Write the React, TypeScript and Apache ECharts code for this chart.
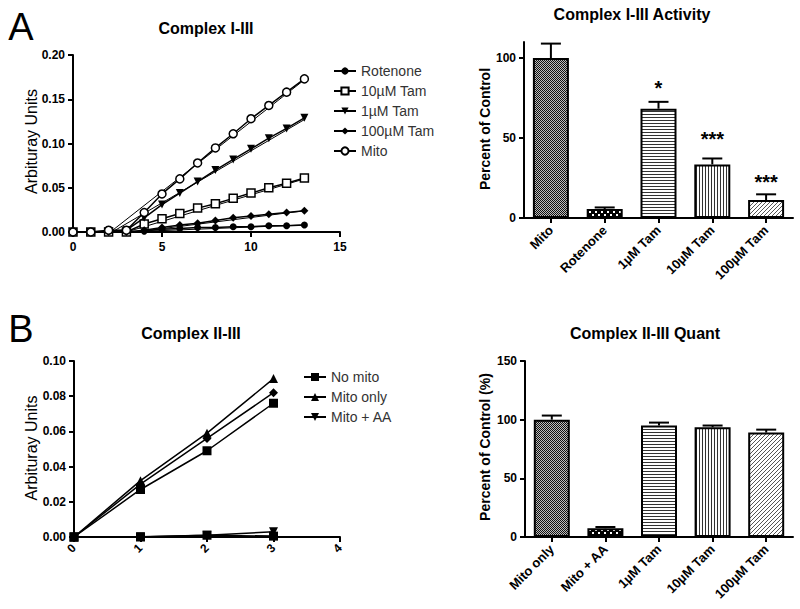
import React, { useEffect, useRef } from 'react';
import * as echarts from 'echarts';

const FONT = '"Liberation Sans", Arial, Helvetica, sans-serif';

// ---------- Panel A (left): Complex I-III kinetics ----------
const timeA = [0, 1, 2, 3, 4, 5, 6, 7, 8, 9, 10, 11, 12, 13];
const rotenoneA = [0, 0, 0, 0, 0.001, 0.003, 0.004, 0.005, 0.005, 0.006, 0.006, 0.007, 0.007, 0.008];
const tam10A = [0, 0, 0, 0, 0.009, 0.015, 0.021, 0.027, 0.032, 0.038, 0.044, 0.05, 0.055, 0.061];
const tam1A = [0, 0, 0.001, 0.002, 0.016, 0.031, 0.044, 0.057, 0.07, 0.082, 0.094, 0.106, 0.117, 0.129];
const tam100A = [0, 0, 0, 0, 0.002, 0.005, 0.008, 0.01, 0.013, 0.016, 0.018, 0.02, 0.022, 0.024];
const mitoA = [0, 0, 0.002, 0.002, 0.022, 0.043, 0.06, 0.078, 0.095, 0.111, 0.128, 0.143, 0.158, 0.173];
// linear fits (start, end) in data units
const fitMitoA = [[2.1, 0], [13, 0.172]];
const fitTam1A = [[2.2, 0], [13, 0.127]];
const fitTam10A = [[3, 0], [13, 0.06]];
const fitTam100A = [[3.5, 0], [13, 0.024]];
const fitRotA = [[3, 0], [13, 0.008]];

// ---------- Panel A (right): Complex I-III Activity ----------
const barCatsA = ['Mito', 'Rotenone', '1µM Tam', '10µM Tam', '100µM Tam'];
const barValsA = [100, 5.6, 68.3, 33.5, 11.2];
const barErrA = [109, 6.6, 72.6, 37.2, 14.8];
const starIdxA = [2, 3, 4];
const starYA = [84, 52, 24.7];
const starTextA = ['*', '***', '***'];
const barTicksA = [0, 50, 100];

// ---------- Panel B (left): Complex II-III kinetics ----------
const timeB = [0, 1, 2, 3];
const noMitoB = [0, 0, 0.001, 0.0005];
const mitoOnlyB = [0, 0.032, 0.059, 0.09];
const mitoAAB = [0, 0.0002, 0.001, 0.003];
const tamDiamondB = [0, 0.03, 0.056, 0.082];
const tamSquareB = [0, 0.027, 0.049, 0.076];

// ---------- Panel B (right): Complex II-III Quant ----------
const barCatsB = ['Mito only', 'Mito + AA', '1µM Tam', '10µM Tam', '100µM Tam'];
const barValsB = [100, 7.5, 95, 93.5, 89];
const barErrB = [103.5, 8.5, 97.5, 95, 91.5];

function tile(w: number, h: number, draw: (ctx: CanvasRenderingContext2D) => void) {
  const c = document.createElement('canvas');
  c.width = w;
  c.height = h;
  const ctx = c.getContext('2d')!;
  draw(ctx);
  return { image: c, repeat: 'repeat', imageWidth: w, imageHeight: h } as any;
}

function makePatterns() {
  const cross = tile(2, 2, (g) => {
    g.fillStyle = '#bdbdbd';
    g.fillRect(0, 0, 2, 2);
    g.fillStyle = '#111';
    g.fillRect(0, 0, 1, 1);
    g.fillRect(1, 1, 1, 1);
  });
  const checker = tile(6, 6, (g) => {
    g.fillStyle = '#000';
    g.fillRect(0, 0, 6, 6);
    g.fillStyle = '#fff';
    g.fillRect(1, 1, 2, 2);
    g.fillRect(4, 4, 2, 2);
  });
  const horiz = tile(4, 3, (g) => {
    g.fillStyle = '#fff';
    g.fillRect(0, 0, 4, 3);
    g.fillStyle = '#333';
    g.fillRect(0, 0, 4, 1);
  });
  const vert = tile(3, 4, (g) => {
    g.fillStyle = '#fff';
    g.fillRect(0, 0, 3, 4);
    g.fillStyle = '#333';
    g.fillRect(0, 0, 1, 4);
  });
  const diag = tile(4, 4, (g) => {
    g.fillStyle = '#fff';
    g.fillRect(0, 0, 4, 4);
    g.fillStyle = '#555';
    g.fillRect(3, 0, 1, 1);
    g.fillRect(2, 1, 1, 1);
    g.fillRect(1, 2, 1, 1);
    g.fillRect(0, 3, 1, 1);
  });
  return [cross, checker, horiz, vert, diag];
}

const DOWN_TRI = 'path://M0,0L10,0L5,10Z';

function lineSeries(name: string, xs: number[], ys: number[], symbol: string, xi: number, size: number, open: boolean) {
  return {
    type: 'line',
    name,
    xAxisIndex: xi,
    yAxisIndex: xi,
    data: xs.map((x, i) => [x, ys[i]]),
    symbol,
    symbolSize: size,
    showSymbol: true,
    lineStyle: { color: '#000', width: 1.5 },
    itemStyle: open
      ? { color: '#fff', borderColor: '#000', borderWidth: 1.5 }
      : { color: '#000', borderColor: '#000', borderWidth: 0 },
    z: 4,
    silent: true,
  };
}

function fitSeries(name: string, pts: number[][], xi: number) {
  return {
    type: 'line',
    name,
    xAxisIndex: xi,
    yAxisIndex: xi,
    data: pts,
    symbol: 'none',
    lineStyle: { color: '#000', width: 1 },
    z: 3,
    silent: true,
  };
}

function errSeries(xi: number, vals: number[], errs: number[]) {
  return {
    type: 'custom',
    xAxisIndex: xi,
    yAxisIndex: xi,
    z: 5,
    silent: true,
    data: vals.map((v, i) => [i, v, errs[i]]),
    renderItem: (params: any, api: any) => {
      const i = api.value(0);
      const p0 = api.coord([i, api.value(1)]);
      const p1 = api.coord([i, api.value(2)]);
      const cap = 10;
      return {
        type: 'group',
        children: [
          { type: 'line', shape: { x1: p0[0], y1: p0[1], x2: p1[0], y2: p1[1] }, style: { stroke: '#000', lineWidth: 2 } },
          { type: 'line', shape: { x1: p1[0] - cap, y1: p1[1], x2: p1[0] + cap, y2: p1[1] }, style: { stroke: '#000', lineWidth: 2 } },
        ],
      };
    },
  };
}

const axisLineStyle = { show: true, onZero: false, lineStyle: { color: '#000', width: 2 } };
const axisTickStyle = { show: true, length: 5, lineStyle: { color: '#000', width: 2 } };
const labelBase = { color: '#000', fontSize: 12, fontWeight: 'bold', fontFamily: FONT };

export default function App() {
  const ref = useRef<HTMLDivElement>(null);

  useEffect(() => {
    if (!ref.current) return;
    const chart = echarts.init(ref.current, undefined, { renderer: 'svg' });
    const pats = makePatterns();

    const grids = [
      { left: 73, top: 55, width: 267, height: 177 },
      { left: 524, top: 42, width: 269, height: 176 },
      { left: 74, top: 361, width: 266, height: 176 },
      { left: 525, top: 361, width: 268, height: 176 },
    ];

    const valueX = (gi: number, max: number, interval: number, rotate: number) => ({
      type: 'value',
      gridIndex: gi,
      min: 0,
      max,
      interval,
      axisLine: axisLineStyle,
      axisTick: axisTickStyle,
      splitLine: { show: false },
      axisLabel: { ...labelBase, margin: 9, rotate },
    });
    const catX = (gi: number, cats: string[]) => ({
      type: 'category',
      gridIndex: gi,
      data: cats,
      axisLine: axisLineStyle,
      axisTick: { ...axisTickStyle, alignWithLabel: true },
      splitLine: { show: false },
      axisLabel: { ...labelBase, fontSize: 13, rotate: 45, interval: 0, margin: 10 },
    });
    const valueY = (gi: number, max: number, interval: number, digits: number, custom?: number[]) => ({
      type: 'value',
      gridIndex: gi,
      min: 0,
      max,
      interval,
      axisLine: axisLineStyle,
      axisTick: custom ? { ...axisTickStyle, customValues: custom } : axisTickStyle,
      splitLine: { show: false },
      axisLabel: {
        ...labelBase,
        margin: 8,
        formatter: (v: number) => v.toFixed(digits),
        ...(custom ? { customValues: custom } : {}),
      },
    });

    const legendText = { fontSize: 14, color: '#333', fontFamily: FONT };

    const option: any = {
      animation: false,
      backgroundColor: '#fff',
      grid: grids,
      xAxis: [
        valueX(0, 15, 5, 0),
        catX(1, barCatsA),
        valueX(2, 4, 1, 45),
        catX(3, barCatsB),
      ],
      yAxis: [
        valueY(0, 0.2, 0.05, 2),
        valueY(1, 110, 10, 0, barTicksA),
        valueY(2, 0.1, 0.02, 2),
        valueY(3, 150, 50, 0),
      ],
      legend: [
        {
          left: 328,
          top: 59,
          orient: 'vertical',
          itemWidth: 22,
          itemHeight: 9,
          itemGap: 6,
          textStyle: legendText,
          data: ['Rotenone', '10µM Tam', '1µM Tam', '100µM Tam', 'Mito'],
          selectedMode: false,
        },
        {
          left: 298,
          top: 365,
          orient: 'vertical',
          itemWidth: 22,
          itemHeight: 10,
          itemGap: 6,
          textStyle: legendText,
          data: ['No mito', 'Mito only', 'Mito + AA'],
          selectedMode: false,
        },
      ],
      graphic: [
        { type: 'text', x: 21, y: 27, style: { text: 'A', fontSize: 38, fontFamily: FONT, fill: '#000', textAlign: 'center', textVerticalAlign: 'middle', verticalAlign: 'middle' } },
        { type: 'text', x: 21, y: 329, style: { text: 'B', fontSize: 38, fontFamily: FONT, fill: '#000', textAlign: 'center', textVerticalAlign: 'middle', verticalAlign: 'middle' } },
        { type: 'text', x: 206, y: 28.5, style: { text: 'Complex I-III', fontSize: 16, fontWeight: 'bold', fontFamily: FONT, fill: '#000', textAlign: 'center', textVerticalAlign: 'middle', verticalAlign: 'middle' } },
        { type: 'text', x: 632, y: 14, style: { text: 'Complex I-III Activity', fontSize: 16, fontWeight: 'bold', fontFamily: FONT, fill: '#000', textAlign: 'center', textVerticalAlign: 'middle', verticalAlign: 'middle' } },
        { type: 'text', x: 191, y: 333.5, style: { text: 'Complex II-III', fontSize: 16, fontWeight: 'bold', fontFamily: FONT, fill: '#000', textAlign: 'center', textVerticalAlign: 'middle', verticalAlign: 'middle' } },
        { type: 'text', x: 645, y: 333.5, style: { text: 'Complex II-III Quant', fontSize: 16, fontWeight: 'bold', fontFamily: FONT, fill: '#000', textAlign: 'center', textVerticalAlign: 'middle', verticalAlign: 'middle' } },
        { type: 'text', x: 31, y: 141.5, rotation: Math.PI / 2, style: { text: 'Arbituray Units', fontSize: 16, fontFamily: FONT, fill: '#000', textAlign: 'center', textVerticalAlign: 'middle', verticalAlign: 'middle' } },
        { type: 'text', x: 31, y: 448, rotation: Math.PI / 2, style: { text: 'Arbituray Units', fontSize: 16, fontFamily: FONT, fill: '#000', textAlign: 'center', textVerticalAlign: 'middle', verticalAlign: 'middle' } },
        { type: 'text', x: 485, y: 129, rotation: Math.PI / 2, style: { text: 'Percent of Control', fontSize: 14, fontWeight: 'bold', fontFamily: FONT, fill: '#000', textAlign: 'center', textVerticalAlign: 'middle', verticalAlign: 'middle' } },
        { type: 'text', x: 485, y: 447, rotation: Math.PI / 2, style: { text: 'Percent of Control (%)', fontSize: 14, fontWeight: 'bold', fontFamily: FONT, fill: '#000', textAlign: 'center', textVerticalAlign: 'middle', verticalAlign: 'middle' } },
      ],
      series: [
        // Panel A left
        fitSeries('fit-rot', fitRotA, 0),
        fitSeries('fit-10', fitTam10A, 0),
        fitSeries('fit-1', fitTam1A, 0),
        fitSeries('fit-100', fitTam100A, 0),
        fitSeries('fit-mito', fitMitoA, 0),
        lineSeries('Rotenone', timeA, rotenoneA, 'circle', 0, 7, false),
        lineSeries('10µM Tam', timeA, tam10A, 'rect', 0, 8, true),
        lineSeries('1µM Tam', timeA, tam1A, DOWN_TRI, 0, 8, false),
        lineSeries('100µM Tam', timeA, tam100A, 'diamond', 0, 8, false),
        lineSeries('Mito', timeA, mitoA, 'circle', 0, 8, true),
        // Panel A right
        {
          type: 'bar',
          xAxisIndex: 1,
          yAxisIndex: 1,
          barWidth: 36,
          silent: true,
          z: 2,
          data: barValsA.map((v, i) => ({ value: v, itemStyle: { color: pats[i], borderColor: '#000', borderWidth: 2 } })),
        },
        errSeries(1, barValsA, barErrA),
        {
          type: 'custom',
          xAxisIndex: 1,
          yAxisIndex: 1,
          z: 6,
          silent: true,
          data: starIdxA.map((ix, i) => [ix, starYA[i]]),
          renderItem: (params: any, api: any) => {
            const p = api.coord([api.value(0), api.value(1)]);
            return {
              type: 'text',
              x: p[0],
              y: p[1] + 4,
              style: {
                text: starTextA[params.dataIndex],
                fontSize: 20,
                fontWeight: 'bold',
                fontFamily: FONT,
                fill: '#000',
                textAlign: 'center',
                textVerticalAlign: 'middle',
                verticalAlign: 'middle',
              },
            };
          },
        },
        // Panel B left
        lineSeries('No mito', timeB, noMitoB, 'rect', 2, 9, false),
        lineSeries('Mito only', timeB, mitoOnlyB, 'triangle', 2, 9, false),
        lineSeries('Mito + AA', timeB, mitoAAB, DOWN_TRI, 2, 9, false),
        lineSeries('Tam diamond', timeB, tamDiamondB, 'diamond', 2, 9, false),
        lineSeries('Tam square', timeB, tamSquareB, 'rect', 2, 9, false),
        // Panel B right
        {
          type: 'bar',
          xAxisIndex: 3,
          yAxisIndex: 3,
          barWidth: 36,
          silent: true,
          z: 2,
          data: barValsB.map((v, i) => ({ value: v, itemStyle: { color: pats[i], borderColor: '#000', borderWidth: 2 } })),
        },
        errSeries(3, barValsB, barErrB),
      ],
    };

    chart.setOption(option);
    return () => chart.dispose();
  }, []);

  return (
    <div
      ref={ref}
      style={{ position: 'fixed', left: 0, top: 0, width: 800, height: 609, background: '#fff' }}
    />
  );
}
